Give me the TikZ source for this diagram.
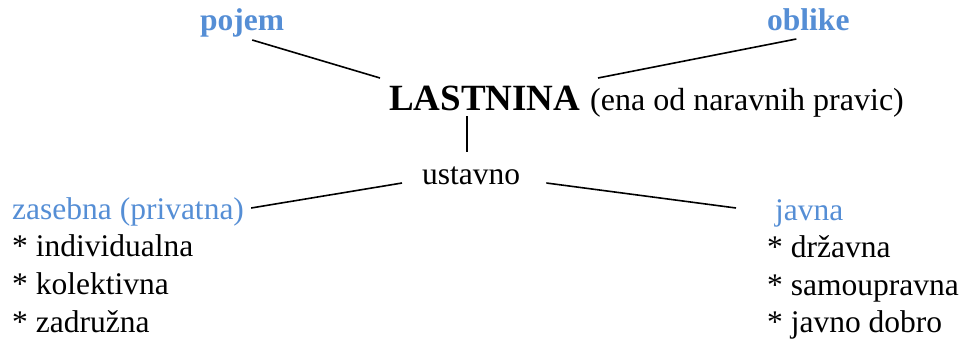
\documentclass[tikz,border=0pt]{standalone}
\usepackage{fontspec}
\setmainfont{Liberation Serif}
\usepackage{xcolor}
\usepackage{tikz}
\usetikzlibrary{calc}
\definecolor{headblue}{RGB}{85,142,213}

\begin{document}
\begin{tikzpicture}[x=1pt,y=-1pt,every node/.style={inner sep=0pt,anchor=base west,font=\fontsize{31.5}{37}\selectfont},
          head/.style={text=headblue},
          topic/.style={head,font=\fontsize{31.5}{37}\selectfont\bfseries},
          link/.style={line width=1.6pt}]
        \useasboundingbox (0,0) rectangle (963,340);
        \node[topic] (pojem) at (200,30) {pojem};
        \node[topic] (oblike) at (767,30) {oblike};
        \node[font=\fontsize{37}{44}\selectfont\bfseries] (title) at (389,110) {LASTNINA};
        \node[font=\fontsize{32}{38}\selectfont] (note) at (590,110) {(ena od naravnih pravic)};
        \node (ustavno) at (422,184) {ustavno};
        \node[head] (zasebna) at (12,219) {zasebna (privatna)};
        \node[head] (javna) at (775,220) {javna};
        \foreach \txt [count=\i] in {individualna,kolektivna,zadružna}
          \node (priv\i) at (12,{219+37.7*\i}) {* \txt};
        \foreach \txt [count=\i] in {državna,samoupravna,javno dobro}
          \node (jav\i) at (767,{220+37.5*\i}) {* \txt};
        % connectors
        \draw[link] ($(pojem.base)+(10,10)$) -- ($(title.base west)+(-9,-32)$);
        \draw[link] ($(oblike.base)+(-12,9)$) -- ($(note.base west)+(8,-32)$);
        \draw[link] ($(title.base west)+(78,6)$) -- ($(ustavno.base west)+(45,-32)$);
        \draw[link] ($(ustavno.base west)+(-20,-1)$) -- ($(zasebna.base east)+(7,-11)$);
        \draw[link] ($(ustavno.base east)+(26,-1)$) -- ($(javna.base west)+(-39,-12)$);
      \end{tikzpicture}
\end{document}
